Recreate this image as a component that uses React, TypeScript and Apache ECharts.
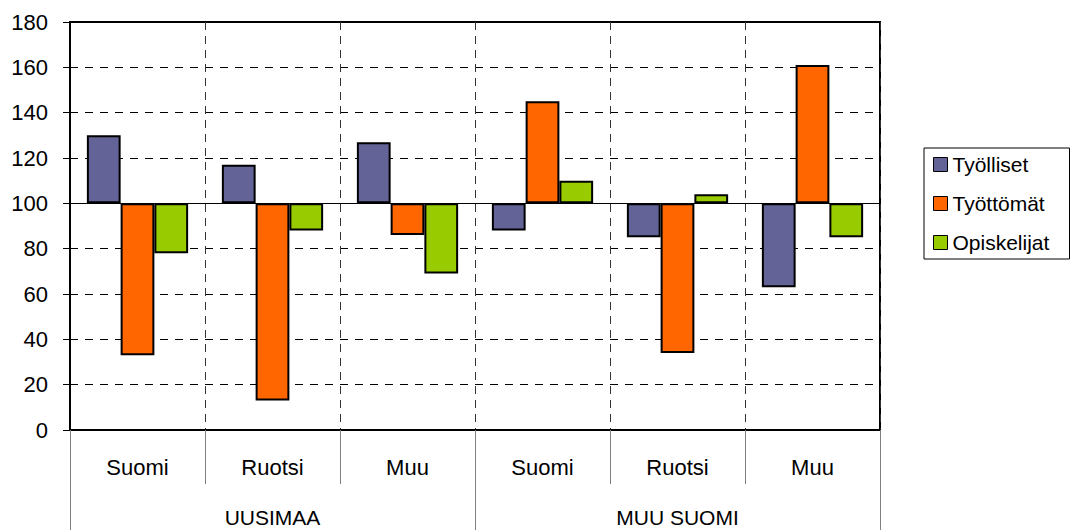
import React, { useEffect, useRef } from "react";
import * as echarts from "echarts";

const categories = ["Suomi", "Ruotsi", "Muu", "Suomi", "Ruotsi", "Muu"];
const groups = ["UUSIMAA", "MUU SUOMI"];
const seriesNames = ["Työlliset", "Työttömät", "Opiskelijat"];
const tyolliset = [130, 117, 127, 88, 85, 63];
const tyottomat = [33, 13, 86, 145, 34, 161];
const opiskelijat = [78, 88, 69, 110, 104, 85];
const colors = ["#636397", "#FF6600", "#99CC00"];
const baseline = 100;
const yTicks = { min: 0, max: 180, interval: 20 };

const FONT = "'Liberation Sans', Arial, sans-serif";

export default function App() {
  const ref = useRef<HTMLDivElement>(null);
  useEffect(() => {
    if (!ref.current) return;
    const chart = echarts.init(ref.current, null, { renderer: "svg" });
    const all = [tyolliset, tyottomat, opiskelijat];
    const series: any[] = [];
    all.forEach((vals, i) => {
      series.push({
        name: "_base" + i,
        type: "bar",
        stack: "s" + i,
        silent: true,
        itemStyle: { color: "transparent" },
        data: vals.map((v) => Math.min(v, baseline)),
        barGap: "0%",
        barCategoryGap: "25%",
      });
      const s: any = {
        name: seriesNames[i],
        type: "bar",
        stack: "s" + i,
        itemStyle: { color: colors[i], borderColor: "#000", borderWidth: 2 },
        data: vals.map((v) => Math.abs(v - baseline)),
        barGap: "0%",
        barCategoryGap: "25%",
      };
      if (i === 2) {
        s.markLine = {
          silent: true,
          symbol: "none",
          label: { show: false },
          lineStyle: { color: "#000", width: 1, type: "solid" },
          data: [{ yAxis: baseline }],
        };
      }
      series.push(s);
    });
    chart.setOption({
      animation: false,
      textStyle: { fontFamily: FONT },
      grid: {
        left: 70,
        top: 22,
        width: 810,
        height: 408,
        show: true,
        borderColor: "#000",
        borderWidth: 2,
        backgroundColor: "#fff",
      },
      legend: {
        orient: "vertical",
        left: 924,
        top: 148,
        data: seriesNames,
        icon: "rect",
        itemWidth: 14,
        itemHeight: 14,
        itemGap: 18,
        itemStyle: { borderColor: "#000", borderWidth: 1 },
        padding: [6, 3, 6, 9],
        borderColor: "#000",
        borderWidth: 1,
        textStyle: { fontSize: 21, color: "#000", fontFamily: FONT, lineHeight: 21, width: 114 },
      },
      xAxis: [
        {
          type: "category",
          data: categories,
          position: "bottom",
          axisLine: { show: true, lineStyle: { color: "#000", width: 2 } },
          axisTick: { show: true, length: 54, interval: 0, lineStyle: { color: "#808080", width: 1 } },
          axisLabel: { color: "#000", fontSize: 22, margin: 26, interval: 0, fontFamily: FONT },
          splitLine: { show: true, interval: 0, lineStyle: { color: "#333", width: 1, type: [8, 6] } },
        },
        {
          type: "category",
          data: groups,
          position: "bottom",
          axisLine: { show: false },
          axisTick: { show: true, length: 100, interval: 0, lineStyle: { color: "#808080", width: 1 } },
          axisLabel: { color: "#000", fontSize: 21, margin: 77, interval: 0, fontFamily: FONT },
          splitLine: { show: false },
        },
      ],
      yAxis: {
        type: "value",
        min: yTicks.min,
        max: yTicks.max,
        interval: yTicks.interval,
        axisLine: { show: true, lineStyle: { color: "#000", width: 2 } },
        axisTick: { show: true, inside: false, length: 7, lineStyle: { color: "#000", width: 1 } },
        axisLabel: { color: "#000", fontSize: 22, margin: 22, fontFamily: FONT },
        splitLine: { show: true, lineStyle: { color: "#000", width: 1, type: [8, 7] } },
      },
      series,
    });
    return () => chart.dispose();
  }, []);
  return (
    <div
      ref={ref}
      style={{ position: "fixed", left: 0, top: 0, width: 1077, height: 530, background: "#fff" }}
    />
  );
}
